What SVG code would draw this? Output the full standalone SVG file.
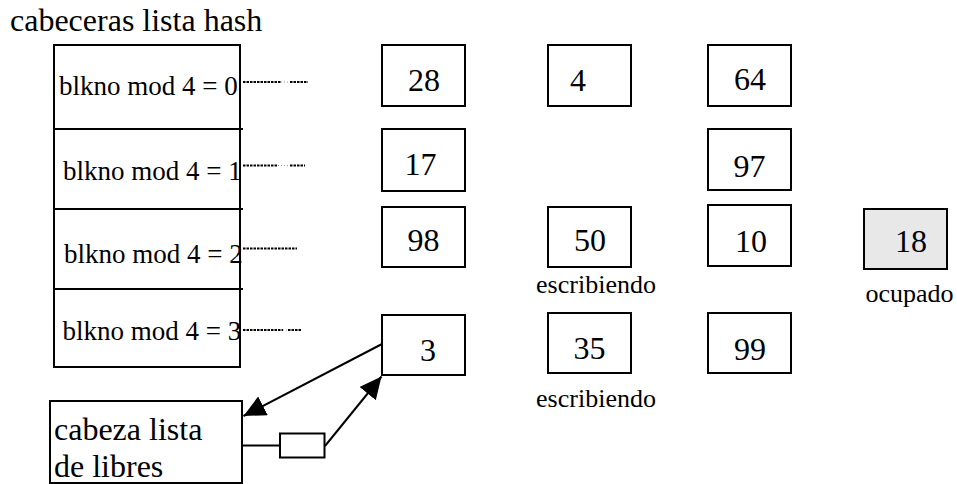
<svg xmlns="http://www.w3.org/2000/svg" width="957" height="484" viewBox="0 0 957 484" font-family="'Liberation Serif', 'DejaVu Serif', serif">
<style>
  text { font-family: 'Liberation Serif', 'DejaVu Serif', serif; fill: #000; }
  .box { fill: #fff; stroke: #000; stroke-width: 2; }
  .busy { fill: #e8e8e8; stroke: #000; stroke-width: 2; }
  .num { font-size: 32px; text-anchor: middle; }
  .lbl { font-size: 26px; text-anchor: middle; }
  .row { font-size: 27px; }
  .big { font-size: 32px; }
  .dot { stroke: #000; stroke-width: 2; stroke-dasharray: 2.5 1; fill: none; }
  .dotg { stroke: #999; stroke-width: 1; stroke-dasharray: 1 2; fill: none; }
  .edge { stroke: #000; stroke-width: 2; fill: none; }
</style>
<defs>
  <marker id="arrow" markerUnits="userSpaceOnUse" markerWidth="24" markerHeight="22" refX="22" refY="10.5" orient="auto">
    <path d="M0,0 L22,10.5 L0,21 z" fill="#000"/>
  </marker>
</defs>
<rect width="957" height="484" fill="#fff"/>

<g id="title">
  <text class="big" x="10" y="31">cabeceras lista hash</text>
</g>

<g id="hash-table">
  <rect x="54" y="45" width="186" height="322" fill="#fff" stroke="#000" stroke-width="2"/>
  <line x1="54" y1="129" x2="243" y2="129" stroke="#000" stroke-width="2"/>
  <line x1="54" y1="209" x2="243" y2="209" stroke="#000" stroke-width="2"/>
  <line x1="54" y1="289" x2="243" y2="289" stroke="#000" stroke-width="2"/>
  <text class="row" x="59" y="95">blkno mod 4 = 0</text>
  <text class="row" x="63" y="180">blkno mod 4 = 1</text>
  <text class="row" x="64" y="263">blkno mod 4 = 2</text>
  <text class="row" x="62.5" y="340">blkno mod 4 = 3</text>
</g>

<g id="free-head">
  <rect x="50" y="401" width="192" height="82" fill="#fff" stroke="#000" stroke-width="2"/>
  <text class="big" x="54" y="440">cabeza lista</text>
  <text class="big" x="54" y="476.5">de libres</text>
</g>

<g id="free-ptr">
  <rect x="280" y="433.5" width="44.5" height="24" fill="#fff" stroke="#000" stroke-width="2"/>
</g>

<g id="b28"><rect class="box" x="382" y="45" width="83" height="61"/><text class="num" x="424" y="91">28</text></g>
<g id="b4"><rect class="box" x="548" y="45" width="83" height="61"/><text class="num" x="578" y="91">4</text></g>
<g id="b64"><rect class="box" x="708" y="45" width="83" height="61"/><text class="num" x="750" y="90">64</text></g>
<g id="b17"><rect class="box" x="382" y="129" width="83" height="62"/><text class="num" x="420.5" y="175">17</text></g>
<g id="b97"><rect class="box" x="708" y="129" width="83" height="61"/><text class="num" x="749.5" y="176.5">97</text></g>
<g id="b98"><rect class="box" x="382" y="207" width="83" height="60"/><text class="num" x="423.5" y="251">98</text></g>
<g id="b50"><rect class="box" x="548" y="207" width="83" height="60"/><text class="num" x="590" y="251">50</text>
  <text class="lbl" x="596" y="293">escribiendo</text></g>
<g id="b10"><rect class="box" x="708" y="205" width="83" height="61"/><text class="num" x="751" y="252">10</text></g>
<g id="b18"><rect class="busy" x="864" y="209" width="83" height="60"/><text class="num" x="911" y="252">18</text>
  <text class="lbl" x="909.5" y="302">ocupado</text></g>
<g id="b3"><rect class="box" x="382" y="315" width="83" height="60"/><text class="num" x="428" y="361">3</text></g>
<g id="b35"><rect class="box" x="548" y="313" width="83" height="60"/><text class="num" x="589.5" y="359">35</text>
  <text class="lbl" x="596" y="406.5">escribiendo</text></g>
<g id="b99"><rect class="box" x="708" y="313" width="83" height="60"/><text class="num" x="750" y="360">99</text></g>

<g id="connectors">
  <line class="dot" x1="243" y1="82" x2="281" y2="82"/>
  <line class="dotg" x1="281" y1="82" x2="290" y2="82"/>
  <line class="dot" x1="290" y1="82" x2="308" y2="82"/>

  <line class="dot" x1="243" y1="165.5" x2="278" y2="165.5"/>
  <line class="dotg" x1="278" y1="165.5" x2="290" y2="165.5"/>
  <line class="dot" x1="290" y1="165.5" x2="305" y2="165.5"/>

  <line class="dot" x1="243" y1="248.5" x2="297" y2="248.5"/>

  <line class="dot" x1="243" y1="330" x2="283" y2="330"/>
  <line class="dotg" x1="283" y1="330" x2="288" y2="330"/>
  <line class="dot" x1="288" y1="330" x2="301" y2="330"/>

  <line class="edge" x1="382" y1="344" x2="243.5" y2="416" marker-end="url(#arrow)"/>
  <line x1="242" y1="445.5" x2="280" y2="445.5" stroke="#000" stroke-width="2"/>
  <line class="edge" x1="325" y1="446" x2="381.5" y2="376.5" marker-end="url(#arrow)"/>
</g>
</svg>
